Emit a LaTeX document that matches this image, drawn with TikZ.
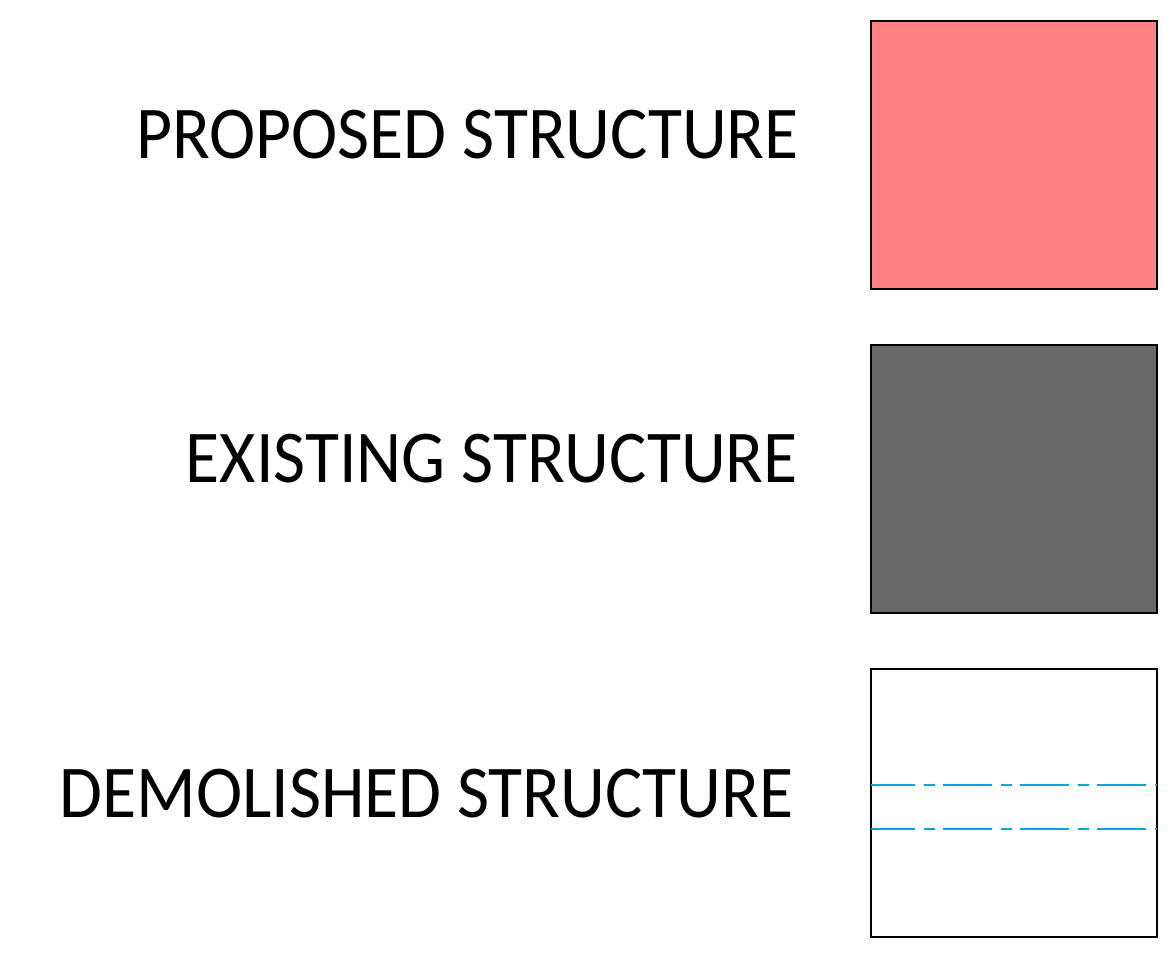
\documentclass[tikz,border=0pt]{standalone}
\usepackage{fontspec}
\setmainfont{Carlito}
\newfontfamily\legfont[FakeStretch=0.936]{Carlito}
\definecolor{propfill}{RGB}{255,128,128}
\definecolor{existfill}{RGB}{105,105,105}
\definecolor{demoline}{RGB}{0,166,226}
\begin{document}
\begin{tikzpicture}[x=1pt,y=-1pt,
  legendbox/.style={draw=black,line width=2.2pt,inner sep=0pt,minimum width=286pt,minimum height=268pt,anchor=north west},
  legendtext/.style={anchor=base east,inner sep=0pt,font=\legfont\fontsize{74.5}{80}\selectfont},
  demo/.style={draw=demoline,line width=2pt,dash pattern=on 49pt off 8.5pt on 11pt off 8.5pt}]
\useasboundingbox (0,0) rectangle (1170,955);
\node[legendbox,fill=propfill] (prop) at (870,20) {};
\node[legendbox,fill=existfill] (exist) at (870,344) {};
\node[legendbox,fill=white] (demo) at (870,668) {};
\node[legendtext] (tprop) at (799,158) {PROPOSED STRUCTURE};
\node[legendtext] (texist) at (798,482) {EXISTING STRUCTURE};
\node[legendtext] (tdemo) at (794,817) {DEMOLISHED STRUCTURE};
\coordinate (l1a) at ([xshift=-3.7pt]demo.west |- 0,785);
\coordinate (l1b) at (demo.east |- 0,785);
\coordinate (l2a) at ([xshift=-3.7pt]demo.west |- 0,829);
\coordinate (l2b) at (demo.east |- 0,829);
\begin{scope}
\clip ([shift={(1.1pt,-1.1pt)}]demo.south west) rectangle ([shift={(-1.1pt,1.1pt)}]demo.north east);
\draw[demo] (l1a) -- (l1b);
\draw[demo] (l2a) -- (l2b);
\end{scope}
\end{tikzpicture}
\end{document}
